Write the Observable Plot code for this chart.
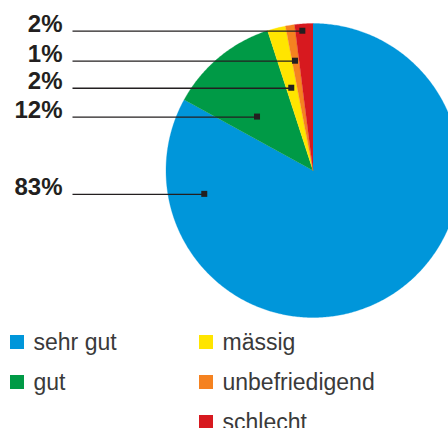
<!DOCTYPE html>
<html><head><meta charset="utf-8">
<script src="https://cdn.jsdelivr.net/npm/d3@7"></script>
<script src="https://cdn.jsdelivr.net/npm/@observablehq/plot@0.6"></script>
<style>body{margin:0;overflow:hidden;background:#fff}</style>
</head><body><div id="chart"></div>
<script>
// ---- data ----
const categories = ["sehr gut", "gut", "mässig", "unbefriedigend", "schlecht"];
const values = [83, 12, 2, 1, 2];
const percentLabels = ["83%", "12%", "2%", "1%", "2%"];
const colors = ["#0096da", "#009a46", "#ffe500", "#f58220", "#d7191f"];

// ---- layout ----
const W = 448, H = 428, cx = 312.5, cy = 170, R = 147;
const anchorT = [0.862, 0.35, 0.49, 0.47, 0.42];   // position of marker within slice angle
const anchorR = [0.754, 0.524, 0.578, 0.753, 0.95]; // marker radius fraction
const lineStartX = 72, labelX = 62;
const legendColX = [10, 199], legendTop = 335, legendRowStep = 40, sq = 14;

const arcs = d3.pie().sort(null).value(d => d)(values);
const pt = (a, r) => [cx + r * Math.sin(a), cy - r * Math.cos(a)];

const sliceMarks = arcs.map((a, i) => {
  const n = Math.max(3, Math.ceil((a.endAngle - a.startAngle) / 0.01));
  const pts = [{x: cx, y: cy}];
  for (let k = 0; k <= n; k++) {
    const ang = a.startAngle + (a.endAngle - a.startAngle) * k / n;
    const [x, y] = pt(ang, R);
    pts.push({x, y});
  }
  return Plot.line(pts, {x: "x", y: "y", fill: colors[i], stroke: colors[i], strokeWidth: 0.3, clip: "frame"});
});

const anchors = arcs.map((a, i) => {
  const ang = a.startAngle + (a.endAngle - a.startAngle) * anchorT[i];
  const [x, y] = pt(ang, R * anchorR[i]);
  return {x, y, label: percentLabels[i]};
});

const legend = categories.map((c, i) => {
  const col = i < 2 ? 0 : 1, row = i < 2 ? i : i - 2;
  const x = legendColX[col], y = legendTop + legendRowStep * row;
  return {c, color: colors[i], x, y};
});

const chart = Plot.plot({
  width: W, height: H, margin: 0,
  x: {domain: [0, W], range: [0, W], axis: null},
  y: {domain: [0, H], range: [0, H], axis: null},
  style: {fontFamily: "Liberation Sans, Arial, sans-serif", background: "#fff"},
  marks: [
    ...sliceMarks,
    Plot.link(anchors, {x1: lineStartX, x2: "x", y1: "y", y2: "y", stroke: "#231f20", strokeWidth: 1.3}),
    Plot.rect(anchors, {x1: d => d.x - 3, x2: d => d.x + 3, y1: d => d.y - 3, y2: d => d.y + 3, fill: "#231f20"}),
    Plot.text(anchors, {x: labelX, y: d => d.y + 0.5, text: "label", textAnchor: "end", lineAnchor: "bottom", fontSize: 24, fontWeight: "bold", fill: "#231f20"}),
    Plot.rect(legend, {x1: "x", x2: d => d.x + sq, y1: "y", y2: d => d.y + sq, fill: "color"}),
    Plot.text(legend, {x: d => d.x + 23, y: d => d.y + sq, text: "c", textAnchor: "start", lineAnchor: "bottom", fontSize: 23, fill: "#3a3a3a"})
  ]
});
document.getElementById("chart").appendChild(chart);
</script>
</body></html>
